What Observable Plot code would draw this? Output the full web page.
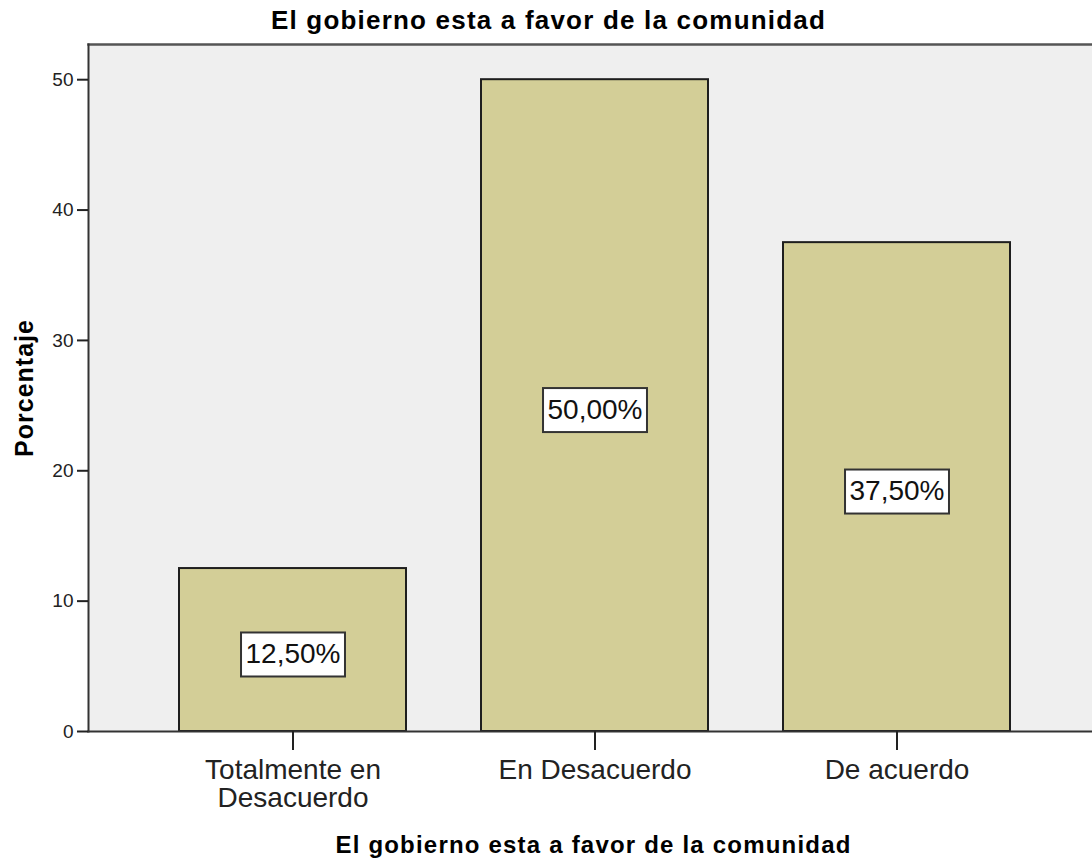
<!DOCTYPE html>
<html><head><meta charset="utf-8">
<script src="https://cdn.jsdelivr.net/npm/d3@7"></script>
<script src="https://cdn.jsdelivr.net/npm/@observablehq/plot@0.6"></script>
<style>
body{margin:0;background:#fff;}
#chart svg{font-family:"Liberation Sans",Arial,sans-serif;}
</style>
</head><body><div id="chart"></div>
<script>
const categories = ["Totalmente en\nDesacuerdo", "En Desacuerdo", "De acuerdo"];
const percentages = [12.5, 50.0, 37.5];
const valueLabels = ["12,50%", "50,00%", "37,50%"];
const yTicks = [0, 10, 20, 30, 40, 50];
const chartTitle = "El gobierno esta a favor de la comunidad";
const xTitle = "El gobierno esta a favor de la comunidad";
const yTitle = "Porcentaje";

const data = categories.map((c, i) => ({category: c, value: percentages[i], label: valueLabels[i]}));
const yMax = 52.7;

const plot = Plot.plot({
  width: 1092, height: 861,
  marginTop: 44, marginBottom: 130, marginLeft: 88, marginRight: 0,
  style: {background: "#fff", fontFamily: "'Liberation Sans', Arial, sans-serif", overflow: "visible"},
  x: {type: "band", domain: categories, range: [178, 1011], paddingInner: 0.25, paddingOuter: 0, label: null},
  y: {domain: [0, yMax], label: null},
  marks: [
    Plot.frame({fill: "#efefef", stroke: null}),
    Plot.barY(data, {x: "category", y: "value", fill: "#d3ce97", stroke: "#1e1e1e", strokeWidth: 2}),
    Plot.frame({anchor: "top", stroke: "#555", strokeWidth: 2.5}),
    Plot.frame({anchor: "left", stroke: "#333", strokeWidth: 2}),
    Plot.frame({anchor: "bottom", stroke: "#333", strokeWidth: 2}),
    Plot.axisY({ticks: yTicks, tickSize: 11, tickPadding: 4, fontSize: 19, color: "#222", strokeWidth: 2, label: null, tickFormat: d => String(d)}),
    Plot.axisX({tickSize: 19, tickPadding: 9, fontSize: 28, lineHeight: 1.0, color: "#222", strokeWidth: 2, label: null}),
    Plot.text(data, {x: "category", y: d => d.value / 2, text: "label", fontSize: 28, dy: 4, fill: "#111", className: "vlabel"}),
    Plot.text([chartTitle], {frameAnchor: "top-left", dx: 460, dy: -15.7, lineAnchor: "bottom", textAnchor: "middle", fontWeight: "bold", fontSize: 26, fill: "#000", className: "ttl"}),
    Plot.text([xTitle], {frameAnchor: "bottom", dy: 121, dx: 3, lineAnchor: "bottom", textAnchor: "middle", fontWeight: "bold", fontSize: 24, fill: "#000", className: "xttl"}),
    Plot.text([yTitle], {frameAnchor: "left", dx: -64, rotate: -90, lineAnchor: "middle", textAnchor: "middle", fontWeight: "bold", fontSize: 25, fill: "#000", className: "yttl"})
  ]
});
document.getElementById("chart").appendChild(plot);

d3.select(plot).selectAll("g.ttl text").style("letter-spacing", "1.2px");
d3.select(plot).selectAll("g.xttl text").style("letter-spacing", "1.2px");
d3.select(plot).selectAll("g.yttl text").style("letter-spacing", "1px");

// white boxes behind value labels
d3.select(plot).selectAll("g.vlabel text").each(function() {
  const b = this.getBBox();
  const cx = b.x + b.width / 2, cy = b.y + b.height / 2;
  const w = b.width + 9, h = 44;
  const tr = this.getAttribute("transform");
  const r = document.createElementNS("http://www.w3.org/2000/svg", "rect");
  r.setAttribute("x", cx - w / 2);
  r.setAttribute("y", cy - h / 2 + 1);
  r.setAttribute("width", w);
  r.setAttribute("height", h);
  r.setAttribute("fill", "#fff");
  r.setAttribute("stroke", "#333");
  r.setAttribute("stroke-width", 2);
  if (tr) r.setAttribute("transform", tr);
  this.parentNode.insertBefore(r, this);
});
</script>
</body></html>
